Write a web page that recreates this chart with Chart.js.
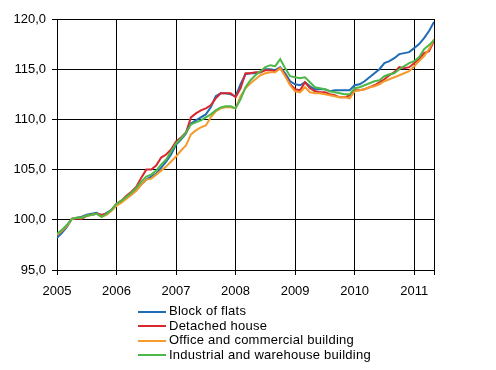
<!DOCTYPE html>
<html>
<head>
<meta charset="utf-8">
<script src="https://cdn.jsdelivr.net/npm/chart.js@4.4.1/dist/chart.umd.min.js"></script>
<style>
    body { margin: 0; background: #fff; }
    #wrap { position: relative; width: 496px; height: 370px; }
    #legend { position: absolute; left: 138px; top: 304px; font: 13px "Liberation Sans", Arial, sans-serif; letter-spacing: 0.25px; color: #000; }
    .row { height: 14.5px; line-height: 14.5px; white-space: nowrap; }
    .swatch { display: inline-block; width: 28px; height: 2px; vertical-align: middle; margin-right: 3px; }
</style>
</head>
<body>
<div id="wrap">
    <canvas id="chart" width="496" height="370"></canvas>
    <div id="legend"></div>
</div>
<script>
    // monthly index values, Jan 2005 .. May 2011
    var startYear = 2005;
    var yearTicks = [2005, 2006, 2007, 2008, 2009, 2010, 2011];

    var blockOfFlats = [
        98.2, 98.7, 99.3, 100.1, 100.2, 100.3, 100.5, 100.6, 100.7, 100.4, 100.7, 101.0,
        101.5, 101.8, 102.2, 102.5, 103.0, 103.5, 104.0, 104.3, 104.6, 105.2, 105.8, 106.5,
        107.5, 108.0, 108.6, 109.6, 109.9, 110.2, 110.5, 111.2, 112.3, 112.6, 112.6, 112.5,
        112.3, 113.5, 114.5, 114.6, 114.6, 114.7, 115.0, 115.0, 114.9, 115.2, 114.6, 113.8,
        113.5, 113.4, 113.7, 113.3, 113.0, 113.0, 113.0, 112.8, 112.9, 112.9, 112.9, 112.9,
        113.4, 113.5, 113.8, 114.2, 114.6, 115.0, 115.6, 115.8, 116.1, 116.5, 116.6, 116.7,
        117.1, 117.5, 118.1, 118.8, 119.7
    ];
    var detachedHouse = [
        98.5, 98.9, 99.4, 100.1, 100.1, 100.1, 100.4, 100.5, 100.6, 100.5, 100.6, 101.0,
        101.6, 101.9, 102.4, 102.8, 103.3, 104.2, 105.0, 105.0, 105.4, 106.2, 106.5, 107.0,
        107.8, 108.2, 108.7, 110.2, 110.6, 110.9, 111.1, 111.4, 112.1, 112.6, 112.6, 112.6,
        112.2, 113.1, 114.6, 114.6, 114.7, 114.7, 114.9, 114.9, 114.8, 115.1, 114.4, 113.5,
        113.0, 112.9, 113.7, 113.1, 112.8, 112.7, 112.7, 112.5, 112.4, 112.2, 112.2, 112.4,
        112.9, 112.9, 113.0, 113.2, 113.4, 113.7, 114.0, 114.4, 114.7, 115.2, 115.1, 115.2,
        115.6, 116.0, 116.6, 116.8, 117.8
    ];
    var officeCommercial = [
        98.5, 98.9, 99.4, 100.1, 100.2, 100.2, 100.4, 100.5, 100.6, 100.3, 100.5, 100.9,
        101.4, 101.7, 102.1, 102.5, 102.9, 103.5, 104.0, 104.1, 104.5, 104.9, 105.3, 105.8,
        106.3, 106.9, 107.4, 108.5, 108.9, 109.2, 109.4, 110.2, 110.8, 111.1, 111.2, 111.2,
        111.1, 112.3, 113.1, 113.6, 114.0, 114.4, 114.6, 114.7, 114.7, 115.1, 114.3, 113.4,
        112.8, 112.7, 113.2, 112.7, 112.6, 112.6, 112.5, 112.4, 112.3, 112.2, 112.2, 112.1,
        112.8, 112.9, 113.0, 113.2, 113.3, 113.5, 113.8, 114.0, 114.2, 114.4, 114.6, 114.8,
        115.3, 115.8, 116.3, 117.0, 118.0
    ];
    var industrialWarehouse = [
        98.6, 99.0, 99.5, 100.1, 100.2, 100.2, 100.4, 100.5, 100.6, 100.3, 100.6, 101.0,
        101.6, 101.9, 102.3, 102.7, 103.2, 103.8, 104.3, 104.5, 104.9, 105.5, 106.0, 106.8,
        107.6, 108.1, 108.7, 109.5, 109.7, 109.9, 110.2, 110.5, 110.9, 111.2, 111.3, 111.3,
        111.1, 112.0, 113.2, 113.9, 114.4, 114.8, 115.2, 115.4, 115.3, 116.0, 115.1, 114.3,
        114.2, 114.1, 114.2, 113.7, 113.2, 113.1, 113.0, 112.8, 112.7, 112.6, 112.5, 112.5,
        113.1, 113.2, 113.4, 113.6, 113.8, 113.9, 114.3, 114.5, 114.6, 115.0, 115.3, 115.6,
        115.8, 116.2, 117.0, 117.4, 117.9
    ];

    var seriesNames = ['Block of flats', 'Detached house', 'Office and commercial building', 'Industrial and warehouse  building'];
    var seriesColors = ['#1f6cb5', '#d7282e', '#f59a2c', '#4cb847'];
    var seriesValues = [blockOfFlats, detachedHouse, officeCommercial, industrialWarehouse];

    function toPoints(values) {
        return values.map(function (v, i) {
            return {x: i, y: v};
        });
    }

    function fmtComma(v) {
        return v.toFixed(1).replace('.', ',');
    }

    function buildLegend() {
        var box = document.getElementById('legend');
        seriesNames.forEach(function (name, i) {
            var row = document.createElement('div');
            row.className = 'row';
            var sw = document.createElement('span');
            sw.className = 'swatch';
            sw.style.background = seriesColors[i];
            row.appendChild(sw);
            row.appendChild(document.createTextNode(name));
            box.appendChild(row);
        });
    }

    var lastIndex = blockOfFlats.length - 1;
    var font = {family: '"Liberation Sans", Arial, sans-serif', size: 13};

    var datasets = seriesValues.map(function (vals, i) {
        return {
            label: seriesNames[i],
            data: toPoints(vals),
            borderColor: seriesColors[i],
            borderWidth: 2,
            pointRadius: 0,
            fill: false,
            tension: 0,
            order: seriesValues.length - i
        };
    });

    new Chart(document.getElementById('chart').getContext('2d'), {
        type: 'line',
        data: {datasets: datasets},
        options: {
            responsive: false,
            animation: false,
            layout: {padding: {top: 19, right: 62, left: 0, bottom: 0}},
            plugins: {legend: {display: false}, tooltip: {enabled: false}},
            scales: {
                x: {
                    type: 'linear',
                    min: 0,
                    max: lastIndex,
                    afterBuildTicks: function (scale) {
                        var t = yearTicks.map(function (y) { return {value: (y - startYear) * 12}; });
                        t.push({value: lastIndex});
                        scale.ticks = t;
                    },
                    afterFit: function (scale) { scale.height = 100; },
                    ticks: {
                        color: '#000',
                        font: font,
                        padding: 9,
                        maxRotation: 0,
                        autoSkip: false,
                        callback: function (v) {
                            return v % 12 === 0 ? String(startYear + v / 12) : '';
                        }
                    },
                    grid: {color: '#000', lineWidth: 1, tickLength: 5},
                    border: {color: '#000'}
                },
                y: {
                    min: 95,
                    max: 120,
                    afterFit: function (scale) { scale.width = 57; },
                    ticks: {
                        stepSize: 5,
                        color: '#000',
                        font: font,
                        padding: 6,
                        callback: function (v) { return fmtComma(v); }
                    },
                    grid: {color: '#000', lineWidth: 1, tickLength: 5},
                    border: {color: '#000'}
                }
            }
        }
    });

    buildLegend();
</script>
</body>
</html>
